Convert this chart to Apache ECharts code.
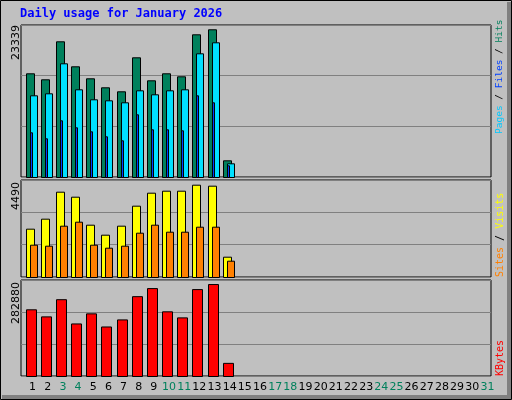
<!DOCTYPE html>
<html><head><meta charset="utf-8">
<script src="https://cdn.jsdelivr.net/npm/echarts@6/dist/echarts.min.js"></script>
<style>body{margin:0;background:#c0c0c0}#c{width:512px;height:400px}</style>
</head><body><div id="c"></div>
<script>
// daily values
var days = [];
for (var d = 1; d <= 31; d++) days.push(String(d));
var weekend = [3,4,10,11,17,18,24,25,31];
var hits  = [16385,15437,21441,17490,15595,14173,13541,18913,15279,16385,15911,22547,23339,2639];
var files = [12909,13225,17965,13857,12277,12119,11803,13699,13067,13699,13857,19545,21283,2165];
var pages = [7063,6115,8959,7853,7221,6431,5799,9907,7537,7537,7379,12909,11803,1849];
var visits = [2348,2834,4146,3903,2542,2056,2494,3466,4097,4194,4194,4486,4438,987];
var sites  = [1570,1521,2493,2688,1570,1424,1521,2153,2542,2202,2202,2445,2445,792];
var kbytes = [205168,183407,236254,161647,192733,152321,174082,245579,270448,198950,180299,267340,282880,40412];

var chart = echarts.init(document.getElementById('c'));

// bar drawn with an offset inside the day slot
function bars(name, data, grid, color, off, w) {
    return {
        name: name, type: 'custom', xAxisIndex: grid, yAxisIndex: grid,
        data: data.map(function (v, i) { return [i, v]; }),
        renderItem: function (params, api) {
            var top = api.coord([api.value(0), api.value(1)]);
            var base = api.coord([api.value(0), 0]);
            var x = Math.round(base[0] - 3 + off);
            return { type: 'rect', shape: { x: x + 0.5, y: top[1] + 0.5, width: w, height: base[1] - top[1] },
                     style: { fill: color, stroke: '#000', lineWidth: 1 } };
        }
    };
}

var grids = [
    { top: 25, height: 152 },
    { top: 180, height: 97 },
    { top: 280, height: 96 }
];
var maxes = [24016, 4714, 295300];

var option = {
    backgroundColor: '#c0c0c0',
    animation: false,
    grid: grids.map(function (g) {
        return { left: 21, right: 21, top: g.top, height: g.height, show: true,
                 backgroundColor: '#c0c0c0', borderColor: '#000', borderWidth: 1 };
    }),
    xAxis: [0, 1, 2].map(function (i) {
        return {
            type: 'category', data: days, gridIndex: i, boundaryGap: true,
            axisLine: { show: false }, axisTick: { show: false },
            axisLabel: i < 2 ? { show: false } : {
                show: true, interval: 0, fontFamily: 'DejaVu Sans', fontSize: 11, margin: 6,
                padding: [0, 0, 0, 8],
                color: function (v) { return weekend.indexOf(+v) >= 0 ? '#00805c' : '#000'; }
            }
        };
    }),
    yAxis: [0, 1, 2].map(function (i) {
        return {
            type: 'value', gridIndex: i, min: 0, max: maxes[i], interval: maxes[i] / 3,
            axisLabel: { show: false }, axisLine: { show: false }, axisTick: { show: false },
            splitLine: { lineStyle: { color: '#808080', width: 1 } }
        };
    }),
    series: [
        bars('Hits', hits, 0, '#00805c', 0, 8),
        bars('Files', files, 0, '#00e0ff', 4, 7),
        bars('Pages', pages, 0, '#0040ff', 4, 2),
        bars('Visits', visits, 1, '#ffff00', 0, 8),
        bars('Sites', sites, 1, '#ff8000', 4, 7),
        bars('KBytes', kbytes, 2, '#ff0000', 0, 10)
    ],
    graphic: [
        { type: 'rect', shape: { x: 0.5, y: 0.5, width: 511, height: 399 }, style: { fill: 'none', stroke: '#000', lineWidth: 1 }, z: 100 },
        { type: 'polyline', shape: { points: [[2, 397], [509, 397], [509, 2]] }, style: { stroke: '#808080', lineWidth: 4, fill: 'none' }, z: 100 },
        { type: 'text', left: 20, top: 8, style: { text: 'Daily usage for January 2026', fill: '#0000ff', font: 'bold 12px "DejaVu Sans Mono"' } },
        { type: 'text', x: 11, y: 60, rotation: Math.PI / 2, style: { text: '23339', fill: '#000', font: '11px "DejaVu Sans"' } },
        { type: 'text', x: 11, y: 210, rotation: Math.PI / 2, style: { text: '4490', fill: '#000', font: '11px "DejaVu Sans"' } },
        { type: 'text', x: 11, y: 324, rotation: Math.PI / 2, style: { text: '282880', fill: '#000', font: '11px "DejaVu Sans"' } },
        { type: 'text', x: 495, y: 134, rotation: Math.PI / 2, style: {
            text: '{p|Pages}{s| / }{f|Files}{s| / }{h|Hits}',
            rich: { p: { fill: '#00c8ff', font: '9.5px "DejaVu Sans Mono"' }, s: { fill: '#000', font: '9.5px "DejaVu Sans Mono"' },
                    f: { fill: '#0040ff', font: '9.5px "DejaVu Sans Mono"' }, h: { fill: '#00805c', font: '9.5px "DejaVu Sans Mono"' } } } },
        { type: 'text', x: 495, y: 277, rotation: Math.PI / 2, style: {
            text: '{a|Sites}{s| / }{b|Visits}',
            rich: { a: { fill: '#ff8000', font: '10px "DejaVu Sans Mono"' }, s: { fill: '#000', font: '10px "DejaVu Sans Mono"' },
                    b: { fill: '#ffff00', font: '10px "DejaVu Sans Mono"' } } } },
        { type: 'text', x: 495, y: 376, rotation: Math.PI / 2, style: { text: 'KBytes', fill: '#ff0000', font: '10px "DejaVu Sans Mono"' } }
    ]
};
chart.setOption(option);
</script></body></html>
